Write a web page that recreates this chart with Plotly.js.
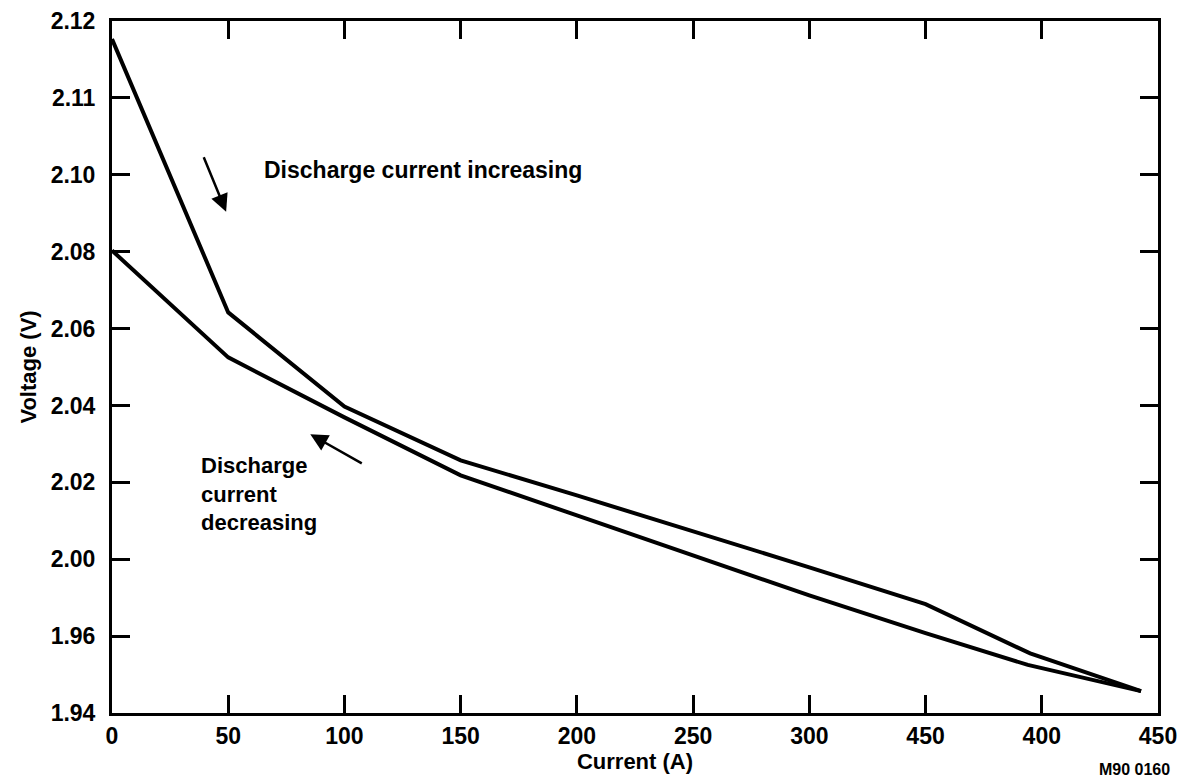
<!DOCTYPE html>
<html>
<head>
<meta charset="utf-8">
<script src="https://cdn.plot.ly/plotly-3.0.1.min.js"></script>
<style>html,body{margin:0;padding:0;background:#fff;}#chart{width:1185px;height:781px;}</style>
</head>
<body>
<div id="chart"></div>
<script>
// Discharge current increasing (upper curve)
const incCurrent = [0, 50, 100, 150, 200, 250, 300, 350, 395, 442.7];
const incVoltage = [2.1353, 2.0642, 2.0397, 2.0257, 2.0166, 2.0073, 1.9979, 1.9883, 1.9755, 1.9657];
// Discharge current decreasing (lower curve)
const decCurrent = [0, 50, 100, 150, 200, 250, 300, 350, 394, 442.7];
const decVoltage = [2.0803, 2.0525, 2.0369, 2.0218, 2.0114, 2.0010, 1.9906, 1.9808, 1.9725, 1.9657];

// Axis ticks (labels as printed in the original figure)
const xTickVals = [0, 50, 100, 150, 200, 250, 300, 350, 400, 450];
const xTickText = ["0", "50", "100", "150", "200", "250", "300", "450", "400", "450"];
const yTickVals = [1.96, 1.98, 2.00, 2.02, 2.04, 2.06, 2.08, 2.10, 2.12, 2.14];
const yTickText = ["1.94", "1.96", "2.00", "2.02", "2.04", "2.06", "2.08", "2.10", "2.11", "2.12"];

const FONT = "Liberation Sans, Arial, Helvetica, sans-serif";

const traces = [
  {x: incCurrent, y: incVoltage, mode: "lines", line: {color: "#000", width: 4}, name: "Discharge current increasing", hoverinfo: "x+y"},
  {x: decCurrent, y: decVoltage, mode: "lines", line: {color: "#000", width: 4}, name: "Discharge current decreasing", hoverinfo: "x+y"}
];

const axisCommon = {
  showgrid: false, zeroline: false, showline: true, linecolor: "#000", linewidth: 3,
  mirror: "ticks", ticks: "inside", ticklen: 18, tickwidth: 3, tickcolor: "#000",
  tickfont: {family: FONT, size: 23, color: "#000", weight: "bold"}
};

const layout = {
  width: 1185, height: 781,
  margin: {l: 112, r: 27, t: 21, b: 68},
  paper_bgcolor: "#fff", plot_bgcolor: "#fff",
  showlegend: false,
  font: {family: FONT, color: "#000"},
  xaxis: Object.assign({}, axisCommon, {
    range: [0, 450], tickmode: "array", tickvals: xTickVals, ticktext: xTickText,
    title: {text: "<b>Current (A)</b>", font: {family: FONT, size: 22, color: "#000"}, standoff: 0}
  }),
  yaxis: Object.assign({}, axisCommon, {
    range: [1.96, 2.14], tickmode: "array", tickvals: yTickVals, ticktext: yTickText,
    ticklabelstandoff: 9,
    title: {text: "<b>Voltage (V)</b>", font: {family: FONT, size: 22, color: "#000"}, standoff: 8}
  }),
  annotations: [
    {x: 64.6, y: 2.1013, xref: "x", yref: "y", xanchor: "left", yanchor: "middle", showarrow: false,
     text: "<b>Discharge current increasing</b>", font: {family: FONT, size: 23, color: "#000"}},
    {x: 37.5, y: 2.0169, xref: "x", yref: "y", xanchor: "left", yanchor: "middle", showarrow: false, align: "left",
     text: "<b>Discharge<br>current<br>decreasing</b>", font: {family: FONT, size: 22, color: "#000"}},
    {x: 49.1, y: 2.0904, xref: "x", yref: "y", ax: -23, ay: -56, showarrow: true, arrowhead: 2, arrowsize: 1.4, arrowwidth: 2.5, arrowcolor: "#000", text: ""},
    {x: 85.3, y: 2.0325, xref: "x", yref: "y", ax: 53, ay: 30, showarrow: true, arrowhead: 2, arrowsize: 1.4, arrowwidth: 2.5, arrowcolor: "#000", text: ""},
    {x: 1.013, y: -0.081, xref: "paper", yref: "paper", xanchor: "right", yanchor: "middle", showarrow: false,
     text: "<b>M90 0160</b>", font: {family: FONT, size: 16, color: "#000"}}
  ]
};

Plotly.newPlot("chart", traces, layout, {displayModeBar: false, staticPlot: true});
</script>
</body>
</html>
